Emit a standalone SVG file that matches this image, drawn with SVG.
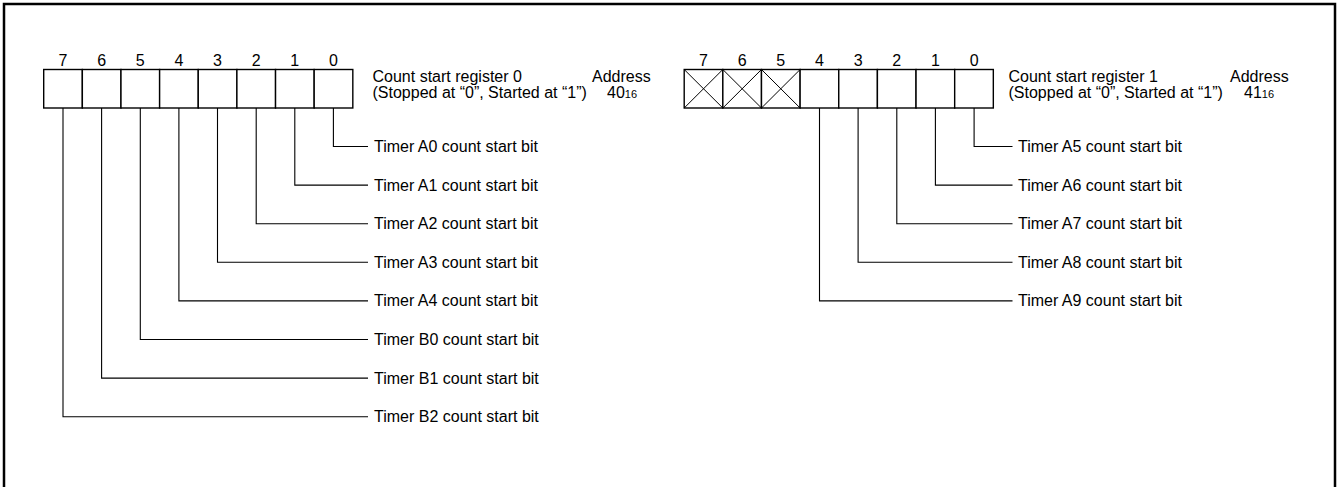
<svg xmlns="http://www.w3.org/2000/svg" width="1339" height="487" viewBox="0 0 1339 487">
<style>
text{font-family:"Liberation Sans",Arial,sans-serif;fill:#000}
.lbl{font-size:16px}
.num{font-size:16px;text-anchor:middle}
.sub{font-size:11px}
.cell{fill:#fff;stroke:#000;stroke-width:1.4}
.x{stroke:#000;stroke-width:1}
.ld{fill:none;stroke:#000;stroke-width:1.1}
.frame{fill:none;stroke:#000;stroke-width:2.5}
</style>
<rect width="1339" height="487" fill="#fff"/>
<rect class="frame" x="4" y="4" width="1331" height="500"/>

<g id="register0">
  <g class="bits">
    <text class="num" x="63" y="66">7</text>
    <text class="num" x="101.6" y="66">6</text>
    <text class="num" x="140.3" y="66">5</text>
    <text class="num" x="178.9" y="66">4</text>
    <text class="num" x="217.5" y="66">3</text>
    <text class="num" x="256.2" y="66">2</text>
    <text class="num" x="294.8" y="66">1</text>
    <text class="num" x="333.4" y="66">0</text>
  </g>
  <rect class="cell" x="43.7" y="69.5" width="38.64" height="38.5"/>
  <rect class="cell" x="82.34" y="69.5" width="38.64" height="38.5"/>
  <rect class="cell" x="120.98" y="69.5" width="38.64" height="38.5"/>
  <rect class="cell" x="159.62" y="69.5" width="38.64" height="38.5"/>
  <rect class="cell" x="198.26" y="69.5" width="38.64" height="38.5"/>
  <rect class="cell" x="236.9" y="69.5" width="38.64" height="38.5"/>
  <rect class="cell" x="275.54" y="69.5" width="38.64" height="38.5"/>
  <rect class="cell" x="314.18" y="69.5" width="38.64" height="38.5"/>
  <text class="lbl" x="372.5" y="82">Count start register 0</text>
  <text class="lbl" x="372.5" y="98">(Stopped at “0”, Started at “1”)</text>
  <text class="lbl" x="592" y="82">Address</text>
  <text class="lbl" x="607" y="98">40<tspan class="sub">16</tspan></text>
</g>

<g id="register1">
  <g class="bits">
    <text class="num" x="703.5" y="66">7</text>
    <text class="num" x="742.2" y="66">6</text>
    <text class="num" x="780.8" y="66">5</text>
    <text class="num" x="819.5" y="66">4</text>
    <text class="num" x="858.1" y="66">3</text>
    <text class="num" x="896.8" y="66">2</text>
    <text class="num" x="935.4" y="66">1</text>
    <text class="num" x="974.1" y="66">0</text>
  </g>
  <rect class="cell" x="684.2" y="69.5" width="38.64" height="38.5"/>
  <rect class="cell" x="722.84" y="69.5" width="38.64" height="38.5"/>
  <rect class="cell" x="761.48" y="69.5" width="38.64" height="38.5"/>
  <rect class="cell" x="800.12" y="69.5" width="38.64" height="38.5"/>
  <rect class="cell" x="838.76" y="69.5" width="38.64" height="38.5"/>
  <rect class="cell" x="877.4" y="69.5" width="38.64" height="38.5"/>
  <rect class="cell" x="916.04" y="69.5" width="38.64" height="38.5"/>
  <rect class="cell" x="954.68" y="69.5" width="38.64" height="38.5"/>
  <path class="x" d="M684.2 69.5L722.84 108M722.84 69.5L684.2 108M722.84 69.5L761.48 108M761.48 69.5L722.84 108M761.48 69.5L800.12 108M800.12 69.5L761.48 108"/>
  <text class="lbl" x="1008.5" y="82">Count start register 1</text>
  <text class="lbl" x="1008.5" y="98">(Stopped at “0”, Started at “1”)</text>
  <text class="lbl" x="1230" y="82">Address</text>
  <text class="lbl" x="1244" y="98">41<tspan class="sub">16</tspan></text>
</g>

<g id="connectors">
  <path class="ld" d="M333.4 108V146.5H368"/>
  <path class="ld" d="M294.8 108V185.1H368"/>
  <path class="ld" d="M256.2 108V223.7H368"/>
  <path class="ld" d="M217.5 108V262.3H368"/>
  <path class="ld" d="M178.9 108V300.9H368"/>
  <path class="ld" d="M140.3 108V339.5H368"/>
  <path class="ld" d="M101.6 108V378.1H368"/>
  <path class="ld" d="M63 108V416.7H368"/>
  <path class="ld" d="M974.1 108V146.5H1012.5"/>
  <path class="ld" d="M935.4 108V185.1H1012.5"/>
  <path class="ld" d="M896.8 108V223.7H1012.5"/>
  <path class="ld" d="M858.1 108V262.3H1012.5"/>
  <path class="ld" d="M819.5 108V300.9H1012.5"/>
</g>

<g id="labels0">
  <text class="lbl" x="374" y="152">Timer A0 count start bit</text>
  <text class="lbl" x="374" y="190.6">Timer A1 count start bit</text>
  <text class="lbl" x="374" y="229.2">Timer A2 count start bit</text>
  <text class="lbl" x="374" y="267.8">Timer A3 count start bit</text>
  <text class="lbl" x="374" y="306.4">Timer A4 count start bit</text>
  <text class="lbl" x="374" y="345">Timer B0 count start bit</text>
  <text class="lbl" x="374" y="383.6">Timer B1 count start bit</text>
  <text class="lbl" x="374" y="422.2">Timer B2 count start bit</text>
</g>
<g id="labels1">
  <text class="lbl" x="1018" y="152">Timer A5 count start bit</text>
  <text class="lbl" x="1018" y="190.6">Timer A6 count start bit</text>
  <text class="lbl" x="1018" y="229.2">Timer A7 count start bit</text>
  <text class="lbl" x="1018" y="267.8">Timer A8 count start bit</text>
  <text class="lbl" x="1018" y="306.4">Timer A9 count start bit</text>
</g>
</svg>
